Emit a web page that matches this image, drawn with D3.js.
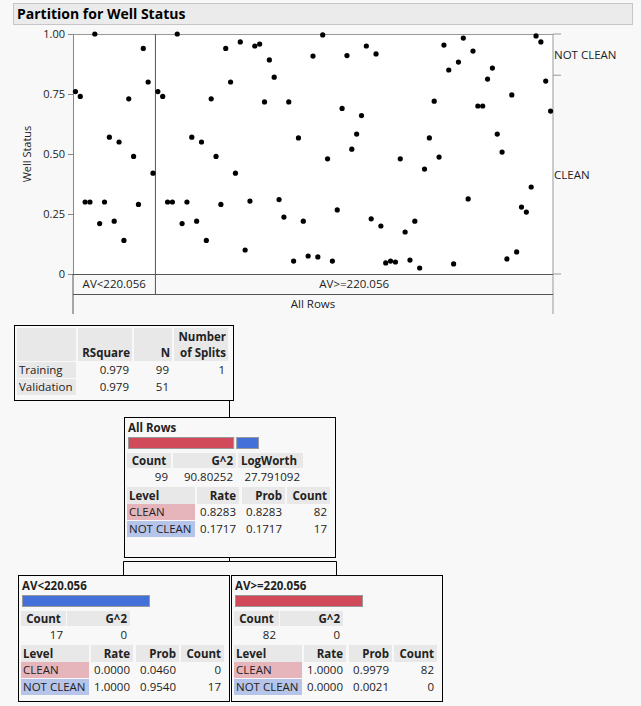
<!DOCTYPE html>
<html>
<head>
<meta charset="utf-8">
<script src="https://cdn.jsdelivr.net/npm/d3@7"></script>
<style>
  body { margin:0; background:#f8f8f8; }
  text { font-family: "Segoe UI", "Open Sans", "Noto Sans", sans-serif; }
</style>
</head>
<body>
<div id="chart"></div>
<script>
// data
var wellStatus = [
  0.76,0.74,0.30,0.30,1.00,0.21,0.30,0.57,0.22,0.55,0.14,0.73,0.49,0.29,0.94,0.80,0.42,
  0.76,0.74,0.30,0.30,1.00,0.21,0.30,0.57,0.22,0.55,0.14,0.73,0.49,0.29,0.94,0.80,0.42,
  0.967,0.10,0.304,0.95,0.958,0.717,0.892,0.82,0.31,0.237,0.717,0.054,0.567,0.22,0.075,0.908,0.071,0.996,
  0.48,0.054,0.267,0.69,0.91,0.52,0.583,0.66,0.95,0.23,0.917,0.20,0.046,0.054,0.05,0.48,0.175,0.058,
  0.22,0.025,0.437,0.567,0.72,0.487,0.954,0.85,0.042,0.883,0.983,0.313,0.929,0.70,0.70,0.812,0.858,
  0.583,0.508,0.063,0.746,0.092,0.279,0.258,0.3625,0.992,0.967,0.804,0.679
];
var splitLabels = ["AV<220.056", "AV>=220.056"];
var splitCounts = [17, 82];
var yTicks = [0, 0.25, 0.5, 0.75, 1];
var levels = ["CLEAN", "NOT CLEAN"];
var levelCut = 0.8283;

var summaryHead = ["", "RSquare", "N", "Number|of Splits"];
var summaryRows = [["Training","0.979","99","1"], ["Validation","0.979","51",""]];

var nodes = [
  {title:"All Rows", count:"99", g2:"90.80252", logworth:"27.791092",
   rate:["0.8283","0.1717"], prob:["0.8283","0.1717"], cnt:["82","17"], bars:[0.8283,0.1717]},
  {title:"AV<220.056", count:"17", g2:"0",
   rate:["0.0000","1.0000"], prob:["0.0460","0.9540"], cnt:["0","17"], bars:[0,1]},
  {title:"AV>=220.056", count:"82", g2:"0",
   rate:["1.0000","0.0000"], prob:["0.9979","0.0021"], cnt:["82","0"], bars:[1,0]}
];

var red = "#d04a59", blue = "#4470da", pink = "#e6b5bc", lblue = "#b6c4e9", hdr = "#e8e8e8";

var svg = d3.select("#chart").append("svg").attr("width",641).attr("height",706);

// title bar
svg.append("rect").attr("x",13.5).attr("y",3.5).attr("width",619).attr("height",21)
  .attr("fill","#ebebeb").attr("stroke","#c6c6c6");
svg.append("text").attr("x",17).attr("y",19).attr("font-size",14).attr("font-weight","bold")
  .text("Partition for Well Status");

// plot
var pl = 73, pr = 553, pt = 34, pb = 274;
var x = d3.scaleLinear().domain([0, wellStatus.length]).range([pl, pr]);
var y = d3.scaleLinear().domain([0,1]).range([pb, pt]);

svg.append("rect").attr("x",pl).attr("y",pt).attr("width",pr-pl).attr("height",pb-pt).attr("fill","white");

svg.append("g").attr("transform","translate("+pl+",0)")
  .call(d3.axisLeft(y).tickValues(yTicks).tickSize(5)
    .tickFormat(function(d){ return d===0 ? "0" : d3.format(".2f")(d); }))
  .call(function(g){
    g.select(".domain").attr("stroke","#888");
    g.selectAll(".tick line").attr("stroke","#888");
    g.selectAll("text").attr("font-size",11).attr("fill","#222").attr("font-family","'Segoe UI','Open Sans',sans-serif");
  });
svg.append("text").attr("transform","translate(31,"+((pt+pb)/2)+") rotate(-90)")
  .attr("text-anchor","middle").attr("font-size",11).attr("fill","#222").text("Well Status");

// right axis for levels
var yr = d3.scaleLinear().domain([0,1]).range([pb, pt]);
[0, levelCut, 1].forEach(function(v){
  svg.append("line").attr("x1",pr).attr("x2",pr+8).attr("y1",yr(v)).attr("y2",yr(v)).attr("stroke","#999");
});
svg.append("line").attr("x1",pr).attr("x2",pr).attr("y1",pt).attr("y2",314).attr("stroke","#999");
svg.append("text").attr("x",pr+1).attr("y",yr((1+levelCut)/2)+4).attr("font-size",11.5).attr("fill","#222").text(levels[1]);
svg.append("text").attr("x",pr+1).attr("y",yr(levelCut/2)+4).attr("font-size",11.5).attr("fill","#222").text(levels[0]);

// top border
svg.append("line").attr("x1",pl).attr("x2",pr).attr("y1",pt+0.5).attr("y2",pt+0.5).attr("stroke","#999");

// split divider and bottom label rows
var splitX = x(splitCounts[0]);
svg.append("line").attr("x1",splitX).attr("x2",splitX).attr("y1",pt).attr("y2",294).attr("stroke","#555");
svg.append("line").attr("x1",pl).attr("x2",pr).attr("y1",pb+0.5).attr("y2",pb+0.5).attr("stroke","#555");
svg.append("line").attr("x1",pl).attr("x2",pr).attr("y1",294.5).attr("y2",294.5).attr("stroke","#555");
svg.append("line").attr("x1",pl).attr("x2",pl).attr("y1",pb).attr("y2",314).attr("stroke","#555");
svg.append("text").attr("x",(pl+splitX)/2).attr("y",288).attr("text-anchor","middle").attr("font-size",11.5).attr("fill","#222").text(splitLabels[0]);
svg.append("text").attr("x",(splitX+pr)/2).attr("y",288).attr("text-anchor","middle").attr("font-size",11.5).attr("fill","#222").text(splitLabels[1]);
svg.append("text").attr("x",(pl+pr)/2).attr("y",308).attr("text-anchor","middle").attr("font-size",11.5).attr("fill","#222").text("All Rows");

svg.selectAll("circle.pt").data(wellStatus).enter().append("circle")
  .attr("class","pt")
  .attr("cx",function(d,i){ return x(i+0.5); })
  .attr("cy",function(d){ return y(d); })
  .attr("r",2.6).attr("fill","black");

////////////////////////////////////////////////
// helpers for the report boxes

function cellRect(g, x0, y0, w, h, fill){
  g.append("rect").attr("x",x0).attr("y",y0).attr("width",w).attr("height",h).attr("fill",fill);
}
function txt(g, x0, y0, s, anchor, bold){
  g.append("text").attr("x",x0).attr("y",y0).attr("font-size",11.5)
    .attr("text-anchor",anchor||"start").attr("font-weight",bold?"bold":"normal")
    .attr("fill","#222").text(s);
}
function box(x0, y0, w, h){
  svg.append("rect").attr("x",x0+0.5).attr("y",y0+0.5).attr("width",w).attr("height",h)
    .attr("fill","#f8f8f8").attr("stroke","black");
}
function path(pts){
  svg.append("path").attr("d", d3.line()(pts)).attr("fill","none").attr("stroke","black");
}

// summary table
box(14,325,219,75);
var sg = svg.append("g");
var scol = [[17,59],[78,54],[134,38],[174,54]];
scol.forEach(function(c,i){
  cellRect(sg, c[0], 328, c[1], 33, hdr);
  var parts = summaryHead[i].split("|");
  if(parts.length>1){
    txt(sg, c[0]+c[1]-2, 341, parts[0], "end", true);
    txt(sg, c[0]+c[1]-2, 357, parts[1], "end", true);
  } else if(parts[0]) txt(sg, c[0]+c[1]-2, 357, parts[0], "end", true);
});
summaryRows.forEach(function(r,j){
  var yy = 362 + j*17;
  cellRect(sg, 17, yy, 59, 16, hdr);
  txt(sg, 19, yy+12, r[0]);
  for(var k=1;k<4;k++) txt(sg, scol[k][0]+scol[k][1]-3, yy+12, r[k], "end");
});

// connectors
path([[229.5,400],[229.5,417]]);
path([[229.5,557],[229.5,561.5],[123.5,561.5],[123.5,575]]);
path([[229.5,561.5],[336.5,561.5],[336.5,575]]);

var barScale = d3.scaleLinear().domain([0,1]).range([0,127]);

function drawNode(n, x0, y0, w, h, withLog){
  box(x0, y0, w, h);
  var g = svg.append("g").attr("transform","translate("+x0+","+y0+")");
  txt(g, 4, 15, n.title, "start", true);
  // bars
  var bx = 4;
  [red, blue].forEach(function(c,i){
    var bw = barScale(n.bars[i]);
    if(bw>0){
      g.append("rect").attr("x",bx+0.5).attr("y",20.5).attr("width",bw).attr("height",11)
        .attr("fill",c).attr("stroke","#999");
      bx += bw + 3;
    }
  });
  // count / g2 / logworth
  var hc = withLog ? [[3,44,"Count"],[49,63,"G^2"],[114,65,"LogWorth"]] : [[3,45,"Count"],[49,63,"G^2"]];
  var hv = withLog ? [n.count, n.g2, n.logworth] : [n.count, n.g2];
  hc.forEach(function(c,i){
    cellRect(g, c[0], 36, c[1], 15, hdr);
    if(i===0) txt(g, c[0]+c[1]/2, 48, c[2], "middle", true);
    else if(i===1) txt(g, c[0]+c[1]-3, 48, c[2], "end", true);
    else txt(g, c[0]+3, 48, c[2], "start", true);
    txt(g, i===2 ? c[0]+c[1]-3 : c[0]+c[1]-3, 64, hv[i], "end");
  });
  // level table
  var lc = [[3,68,"Level"],[73,42,"Rate"],[118,43,"Prob"],[163,43,"Count"]];
  var ly = 70;
  lc.forEach(function(c,i){
    cellRect(g, c[0], ly, c[1], 17, hdr);
    txt(g, i===0 ? c[0]+2 : c[0]+c[1]-3, ly+13, c[2], i===0 ? "start" : "end", true);
  });
  levels.forEach(function(l,j){
    var yy = ly + 17 + j*17;
    cellRect(g, 3, yy, 68, 16, j===0 ? pink : lblue);
    txt(g, 5, yy+12, l);
    txt(g, lc[1][0]+lc[1][1]-3, yy+12, n.rate[j], "end");
    txt(g, lc[2][0]+lc[2][1]-3, yy+12, n.prob[j], "end");
    txt(g, lc[3][0]+lc[3][1]-3, yy+12, n.cnt[j], "end");
  });
}

drawNode(nodes[0], 124, 417, 211, 140, true);
drawNode(nodes[1], 18, 575, 211, 126, false);
drawNode(nodes[2], 231, 575, 211, 126, false);
</script>
</body>
</html>
